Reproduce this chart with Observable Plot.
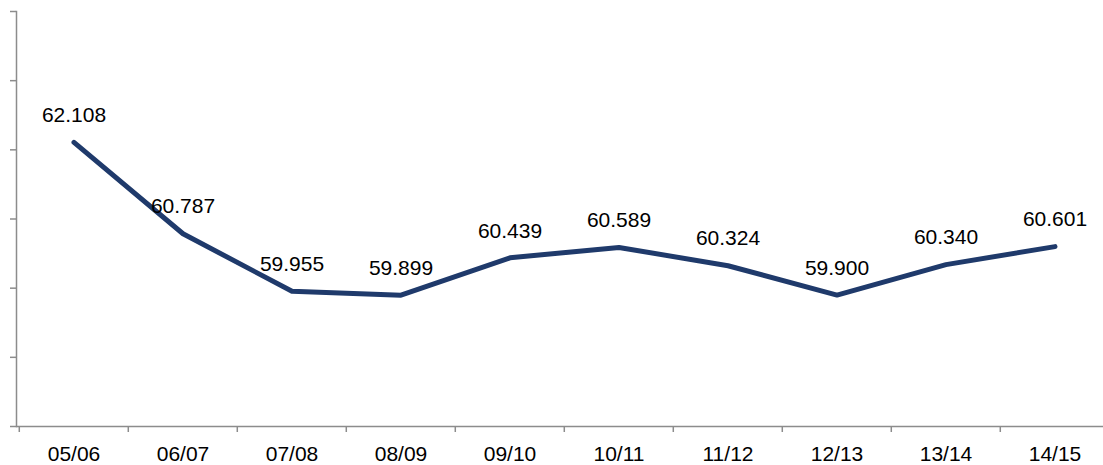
<!DOCTYPE html>
<html>
<head>
<meta charset="utf-8">
<script src="https://cdn.jsdelivr.net/npm/d3@7"></script>
<script src="https://cdn.jsdelivr.net/npm/@observablehq/plot@0.6"></script>
<style>
  html, body { margin: 0; padding: 0; background: #fff; overflow: hidden; }
  svg { overflow: visible; }
</style>
</head>
<body>
<div id="chart"></div>
<script>
const seasons = ["05/06", "06/07", "07/08", "08/09", "09/10", "10/11", "11/12", "12/13", "13/14", "14/15"];
const values = [62.108, 60.787, 59.955, 59.899, 60.439, 60.589, 60.324, 59.900, 60.340, 60.601];
const labels = ["62.108", "60.787", "59.955", "59.899", "60.439", "60.589", "60.324", "59.900", "60.340", "60.601"];
const yTicks = [58, 59, 60, 61, 62, 63, 64];

const data = seasons.map((s, i) => ({season: s, value: values[i], label: labels[i]}));

const W = 1103, H = 465;
const x0 = 16.7, x1 = 1111;
const bw = (x1 - x0) / seasons.length;
const font = "'Liberation Sans', Arial, sans-serif";
const axisColor = "#8c8c8c";

const chart = Plot.plot({
  width: W,
  height: H,
  marginLeft: 16,
  marginRight: 0,
  marginTop: 11,
  marginBottom: 39,
  style: {fontFamily: font, fontSize: "21px", background: "#fff", overflow: "visible"},
  x: {type: "band", domain: seasons, range: [x0, x1], padding: 0},
  y: {domain: [58, 64], range: [426, 11]},
  marks: [
    Plot.axisX({ticks: seasons, tickSize: 6, tickFormat: () => "", dx: -bw / 2, stroke: axisColor, strokeWidth: 1.5, label: null}),
    Plot.axisX({ticks: seasons, tickSize: 0, tickPadding: 20, fontSize: 21, fill: "#000", label: null}),
    Plot.axisY({ticks: yTicks, tickSize: 6, tickFormat: () => "", stroke: axisColor, strokeWidth: 1.5, label: null}),
    Plot.ruleY([58], {stroke: axisColor, strokeWidth: 1.5}),
    Plot.frame({anchor: "left", stroke: axisColor, strokeWidth: 1.5}),
    Plot.line(data, {x: "season", y: "value", stroke: "#1F3A6B", strokeWidth: 5, strokeLinecap: "round", strokeLinejoin: "round"}),
    Plot.text(data, {x: "season", y: "value", text: "label", dy: -27, fontSize: 21, fill: "#000"})
  ]
});

document.getElementById("chart").appendChild(chart);
</script>
</body>
</html>
